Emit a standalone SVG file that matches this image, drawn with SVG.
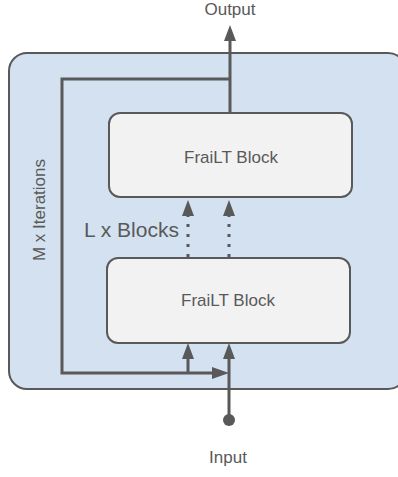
<svg xmlns="http://www.w3.org/2000/svg" width="398" height="477" viewBox="0 0 398 477">
<style>
.t{font-family:"Liberation Sans",Arial,sans-serif;fill:#595959;}
.ln{fill:none;stroke:#595959;stroke-width:3;}
.blk{fill:#f2f2f2;stroke:#595959;stroke-width:2;}
.ah{fill:#595959;}
</style>
<rect width="398" height="477" fill="#ffffff"/>
<g id="container">
<rect x="9" y="53" width="397" height="336" rx="18" fill="#d4e1f0" stroke="#595959" stroke-width="2"/>
<text class="t" font-size="17" transform="translate(45,210) rotate(-90)" text-anchor="middle">M x Iterations</text>
</g>
<g id="connectors">
<path class="ln" d="M230,113 V40"/>
<polygon class="ah" points="230,25 224,41 236,41"/>
<path class="ln" d="M230,79 H62 V373 H214"/>
<polygon class="ah" points="229,373 212,367 212,379"/>
<path class="ln" d="M188,373 V357"/>
<polygon class="ah" points="188,343 182,359 194,359"/>
<path class="ln" d="M229,420 V357"/>
<polygon class="ah" points="229,343 223,359 235,359"/>
<circle cx="229" cy="420" r="6" fill="#595959"/>
<path class="ln" d="M188,257 V216" stroke-dasharray="3 7"/>
<polygon class="ah" points="188,200 182,216 194,216"/>
<path class="ln" d="M229,257 V216" stroke-dasharray="3 7"/>
<polygon class="ah" points="229,200 223,216 235,216"/>
</g>
<g id="block-upper">
<rect class="blk" x="109" y="113" width="243" height="84" rx="11"/>
<text class="t" font-size="17" x="231" y="163" text-anchor="middle">FraiLT Block</text>
</g>
<g id="block-lower">
<rect class="blk" x="107" y="258" width="243" height="85" rx="11"/>
<text class="t" font-size="17" x="228" y="306" text-anchor="middle">FraiLT Block</text>
</g>
<g id="label-l">
<text class="t" font-size="21" x="84" y="237">L x Blocks</text>
</g>
<g id="label-output">
<text class="t" font-size="17" x="230" y="15" text-anchor="middle">Output</text>
</g>
<g id="label-input">
<text class="t" font-size="17" x="228" y="463" text-anchor="middle">Input</text>
</g>
</svg>
